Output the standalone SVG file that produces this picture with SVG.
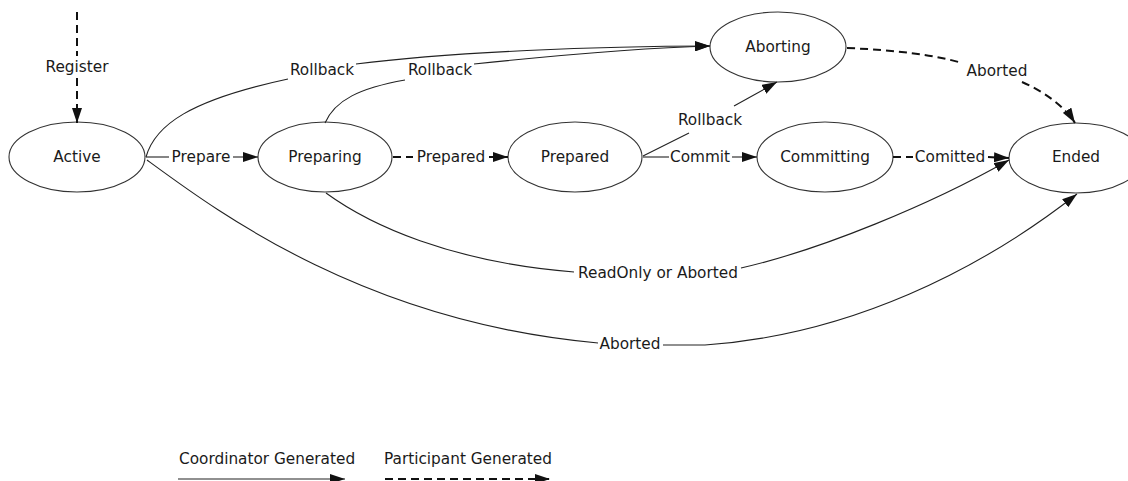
<svg xmlns="http://www.w3.org/2000/svg" width="1128" height="481" viewBox="0 0 1128 481">
  <defs>
    <style>
      .node ellipse { fill: #ffffff; stroke: #333333; stroke-width: 1.1; }
      text { font-family: "DejaVu Sans", "Liberation Sans", sans-serif; font-size: 15.3px; fill: #1a1a1a; }
      .lbl { text-anchor: middle; }
      .coord { fill: none; stroke: #222222; stroke-width: 1.1; }
      .part { fill: none; stroke: #111111; stroke-width: 2; stroke-dasharray: 8 5; }
    </style>
    <marker id="arrow" viewBox="0 0 15 10" refX="15" refY="5" markerWidth="15" markerHeight="10" markerUnits="userSpaceOnUse" orient="auto">
      <path d="M0,0 L15,5 L0,10 z" fill="#111111"/>
    </marker>
  </defs>
  <rect width="1128" height="481" fill="#ffffff"/>

  <!-- state nodes -->
  <g id="node-active" class="node">
    <ellipse cx="77" cy="157" rx="68" ry="35"/>
    <text class="lbl" x="77" y="162">Active</text>
  </g>
  <g id="node-preparing" class="node">
    <ellipse cx="325" cy="157" rx="67" ry="35"/>
    <text class="lbl" x="325" y="162">Preparing</text>
  </g>
  <g id="node-prepared" class="node">
    <ellipse cx="575" cy="157" rx="67" ry="35"/>
    <text class="lbl" x="575" y="162">Prepared</text>
  </g>
  <g id="node-committing" class="node">
    <ellipse cx="825" cy="157" rx="68" ry="35"/>
    <text class="lbl" x="825" y="162">Committing</text>
  </g>
  <g id="node-ended" class="node">
    <ellipse cx="1076" cy="158" rx="67" ry="35"/>
    <text class="lbl" x="1076" y="162">Ended</text>
  </g>
  <g id="node-aborting" class="node">
    <ellipse cx="778" cy="47" rx="68" ry="35"/>
    <text class="lbl" x="778" y="52">Aborting</text>
  </g>

  <!-- transitions -->
  <g id="connectors">
    <!-- Register -->
    <path class="part" d="M77,12 L77,56"/>
    <path class="part" d="M77,78 L77,123" marker-end="url(#arrow)"/>
    <text class="lbl" x="77" y="72">Register</text>

    <!-- Prepare -->
    <path class="coord" d="M146,157 L169,157"/>
    <path class="coord" d="M233,157 L258,157" marker-end="url(#arrow)"/>
    <text class="lbl" x="201" y="162">Prepare</text>

    <!-- Prepared -->
    <path class="part" d="M393,157 L413,157"/>
    <path class="part" d="M489,157 L508,157" marker-end="url(#arrow)"/>
    <text class="lbl" x="451" y="162">Prepared</text>

    <!-- Commit -->
    <path class="coord" d="M643,157 L669,157"/>
    <path class="coord" d="M732,157 L757,157" marker-end="url(#arrow)"/>
    <text class="lbl" x="700" y="162">Commit</text>

    <!-- Comitted -->
    <path class="part" d="M893,157 L913,157"/>
    <path class="part" d="M988,157 L1009,158" marker-end="url(#arrow)"/>
    <text class="lbl" x="950" y="162">Comitted</text>

    <!-- Active to Aborting: Rollback -->
    <path class="coord" d="M146,157 C155,125 190,100 288,79"/>
    <path class="coord" d="M356,64 C450,52 600,46 710,46" marker-end="url(#arrow)"/>
    <text class="lbl" x="322" y="75">Rollback</text>

    <!-- Preparing to Aborting: Rollback -->
    <path class="coord" d="M325,123 C335,100 360,88 405,80"/>
    <path class="coord" d="M474,64 C560,55 640,48 710,46" marker-end="url(#arrow)"/>
    <text class="lbl" x="440" y="75">Rollback</text>

    <!-- Prepared to Aborting: Rollback -->
    <path class="coord" d="M643,156 L689,133"/>
    <path class="coord" d="M734,106 L777,82" marker-end="url(#arrow)"/>
    <text class="lbl" x="710" y="125">Rollback</text>

    <!-- Aborting to Ended: Aborted -->
    <path class="part" d="M847,48 C895,50 935,55 962,63"/>
    <path class="part" d="M1022,82 C1045,92 1065,107 1075,123" marker-end="url(#arrow)"/>
    <text class="lbl" x="997" y="76">Aborted</text>

    <!-- Preparing to Ended: ReadOnly or Aborted -->
    <path class="coord" d="M326,193 C370,225 450,262 574,272"/>
    <path class="coord" d="M741,268 C820,250 930,205 1009,160" marker-end="url(#arrow)"/>
    <text class="lbl" x="658" y="278">ReadOnly or Aborted</text>

    <!-- Active to Ended: Aborted -->
    <path class="coord" d="M147,160 C218,212 365,322 598,343"/>
    <path class="coord" d="M663,345 L705,345 C850,335 980,270 1077,194" marker-end="url(#arrow)"/>
    <text class="lbl" x="630" y="349">Aborted</text>
  </g>

  <!-- legend -->
  <g id="legend">
    <text x="179" y="464">Coordinator Generated</text>
    <path class="coord" d="M178,479 L345,479" marker-end="url(#arrow)"/>
    <text x="384" y="464">Participant Generated</text>
    <path class="part" d="M385,479 L550,479" marker-end="url(#arrow)"/>
  </g>
</svg>
